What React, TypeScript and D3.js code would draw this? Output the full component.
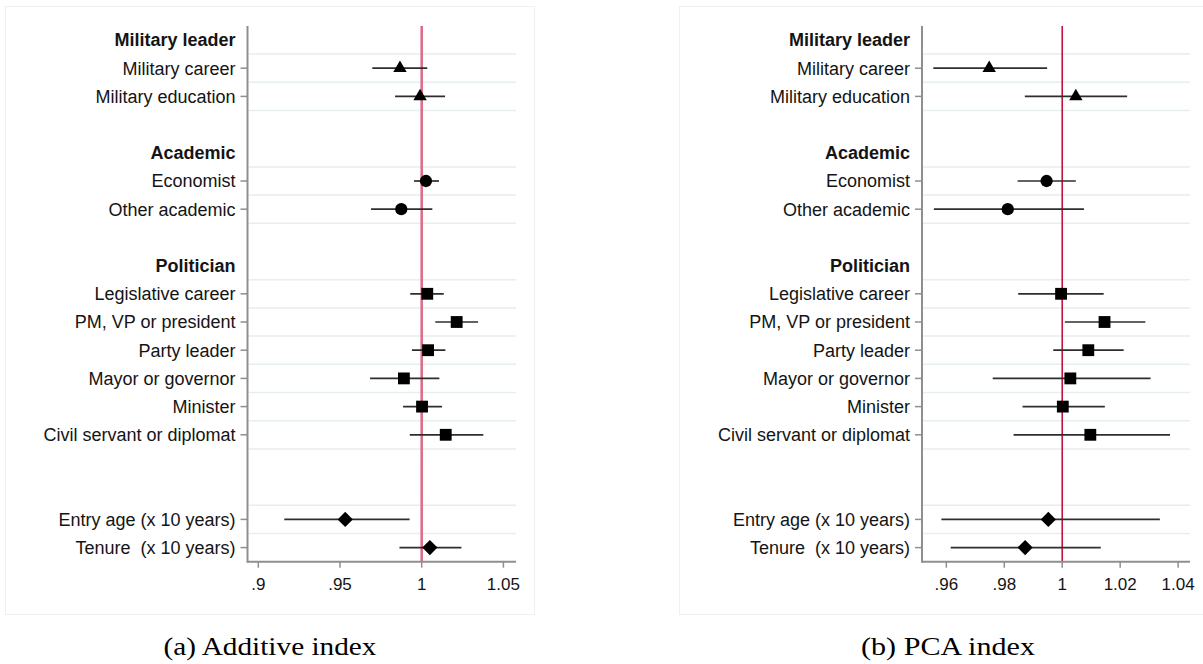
import React from "react";
import * as d3 from "d3";

// ---- data ----
const rowLabels = [
  "Military leader",
  "Military career",
  "Military education",
  "",
  "Academic",
  "Economist",
  "Other academic",
  "",
  "Politician",
  "Legislative career",
  "PM, VP or president",
  "Party leader",
  "Mayor or governor",
  "Minister",
  "Civil servant or diplomat",
  "",
  "",
  "Entry age (x 10 years)",
  "Tenure  (x 10 years)",
];
const headerLabels = ["Military leader", "Academic", "Politician"];

const categories = [
  "Military career",
  "Military education",
  "Economist",
  "Other academic",
  "Legislative career",
  "PM, VP or president",
  "Party leader",
  "Mayor or governor",
  "Minister",
  "Civil servant or diplomat",
  "Entry age (x 10 years)",
  "Tenure  (x 10 years)",
];
const markerShapes = [
  "triangle", "triangle",
  "circle", "circle",
  "square", "square", "square", "square", "square", "square",
  "diamond", "diamond",
];

// Additive index
const addEstimate = [0.9867, 0.999, 1.0026, 0.9875, 1.0034, 1.0214, 1.0039, 0.9891, 1.0002, 1.0147, 0.9532, 1.005];
const addLower = [0.9698, 0.9837, 0.9953, 0.969, 0.993, 1.0083, 0.994, 0.9684, 0.9886, 0.9927, 0.9159, 0.9864];
const addUpper = [1.0034, 1.0143, 1.0106, 1.0065, 1.0135, 1.0345, 1.0145, 1.0108, 1.0124, 1.0377, 0.9926, 1.0243];
const addTicks = [0.9, 0.95, 1, 1.05];
const addTickLabels = [".9", ".95", "1", "1.05"];

// PCA index
const pcaEstimate = [0.9748, 1.0047, 0.9946, 0.9812, 0.9996, 1.0146, 1.009, 1.0028, 1.0002, 1.0097, 0.9952, 0.9872];
const pcaLower = [0.9555, 0.9871, 0.9846, 0.9557, 0.9848, 1.0009, 0.9969, 0.976, 0.9863, 0.9832, 0.9583, 0.9615];
const pcaUpper = [0.9948, 1.0224, 1.0047, 1.0075, 1.0143, 1.0287, 1.0212, 1.0305, 1.0147, 1.0372, 1.0337, 1.0133];
const pcaTicks = [0.96, 0.98, 1, 1.02, 1.04];
const pcaTickLabels = [".96", ".98", "1", "1.02", "1.04"];

const captions = ["(a) Additive index", "(b) PCA index"];

// ---- layout ----
const W = 1203;
const H = 664;
const SANS = "'Liberation Sans', Arial, sans-serif";
const SERIF = "'Liberation Serif', 'Times New Roman', serif";

const yScale = d3.scaleLinear().domain([-0.5, rowLabels.length - 0.5]).range([25.9, 561.7]);

type PanelProps = {
  domain: [number, number];
  range: [number, number];
  est: number[];
  lo: number[];
  hi: number[];
  ticks: number[];
  tickLabels: string[];
  refColor: string;
  refWidth: number;
  frame: { x: number; y: number; w: number; h: number };
  caption: string;
  captionX: number;
  captionWidth: number;
};

function markerPath(shape: string): string {
  if (shape === "triangle") return d3.symbol(d3.symbolTriangle, 78)() as string;
  if (shape === "circle") return d3.symbol(d3.symbolCircle, 118)() as string;
  if (shape === "square") return d3.symbol(d3.symbolSquare, 140)() as string;
  const r = 7.6;
  return `M0,${-r}L${r},0L0,${r}L${-r},0Z`;
}

function Panel(p: PanelProps) {
  const x = d3.scaleLinear().domain(p.domain).range(p.range);
  const [x0, x1] = p.range;
  const yTop = yScale.range()[0];
  const yBot = yScale.range()[1];
  const coefRows = categories.map((c) => rowLabels.indexOf(c));
  const gridRows = Array.from(
    new Set(coefRows.flatMap((r) => [r - 0.5, r + 0.5]))
  ).filter((r) => r < rowLabels.length - 0.5);

  return (
    <g>
      <rect
        x={p.frame.x}
        y={p.frame.y}
        width={p.frame.w}
        height={p.frame.h}
        fill="none"
        stroke="#edf1f1"
        strokeWidth={1}
      />
      {/* grid */}
      {gridRows.map((r, i) => (
        <line key={"g" + i} x1={x0 + 1} x2={x1} y1={yScale(r)} y2={yScale(r)} stroke="#e6eef1" strokeWidth={1.5} />
      ))}
      {/* reference line */}
      <line x1={x(1)} x2={x(1)} y1={yTop} y2={yBot} stroke={p.refColor} strokeWidth={p.refWidth} />
      {/* axes */}
      <line x1={x0} x2={x0} y1={yTop} y2={yBot + 1} stroke="#8f8f8f" strokeWidth={2} />
      <line x1={x0} x2={x1} y1={yBot} y2={yBot} stroke="#8f8f8f" strokeWidth={2} />
      {p.ticks.map((t, i) => (
        <g key={"t" + i}>
          <line x1={x(t)} x2={x(t)} y1={yBot} y2={yBot + 6} stroke="#8f8f8f" strokeWidth={1.5} />
          <text x={x(t)} y={589.5} textAnchor="middle" fontFamily={SANS} fontSize={17} fill="#141414">
            {p.tickLabels[i]}
          </text>
        </g>
      ))}
      {/* row labels */}
      {rowLabels.map((lab, i) => {
        if (!lab) return null;
        const isHeader = headerLabels.includes(lab);
        return (
          <g key={"r" + i}>
            {!isHeader && (
              <line x1={x0 - 7} x2={x0} y1={yScale(i)} y2={yScale(i)} stroke="#8f8f8f" strokeWidth={1.5} />
            )}
            <text
              x={x0 - 12}
              y={yScale(i) + 6.3}
              textAnchor="end"
              fontFamily={SANS}
              fontSize={18}
              fontWeight={isHeader ? "bold" : "normal"}
              fill="#141414"
              style={{ whiteSpace: "pre" }}
            >
              {lab}
            </text>
          </g>
        );
      })}
      {/* CIs and markers */}
      {categories.map((c, i) => {
        const yy = yScale(rowLabels.indexOf(c));
        return (
          <g key={"c" + i}>
            <line x1={x(p.lo[i])} x2={x(p.hi[i])} y1={yy} y2={yy} stroke="#2e2e2e" strokeWidth={1.7} />
            <path d={markerPath(markerShapes[i])} transform={`translate(${x(p.est[i])},${yy})`} fill="#000" />
          </g>
        );
      })}
      <text
        x={p.captionX}
        y={655}
        textAnchor="middle"
        fontFamily={SERIF}
        fontSize={26}
        fill="#000"
        textLength={p.captionWidth}
        lengthAdjust="spacingAndGlyphs"
      >
        {p.caption}
      </text>
    </g>
  );
}

export default function App() {
  return (
    <svg
      width={W}
      height={H}
      viewBox={`0 0 ${W} ${H}`}
      style={{ position: "absolute", left: 0, top: 0, background: "#fff" }}
    >
      <rect x={0} y={0} width={W} height={H} fill="#fff" />
      <Panel
        domain={[0.8934, 1.0577]}
        range={[247.5, 516]}
        est={addEstimate}
        lo={addLower}
        hi={addUpper}
        ticks={addTicks}
        tickLabels={addTickLabels}
        refColor="#dd6d88"
        refWidth={2.6}
        frame={{ x: 5.5, y: 6.5, w: 529, h: 608 }}
        caption={captions[0]}
        captionX={270}
        captionWidth={213}
      />
      <Panel
        domain={[0.9516, 1.0441]}
        range={[922, 1190]}
        est={pcaEstimate}
        lo={pcaLower}
        hi={pcaUpper}
        ticks={pcaTicks}
        tickLabels={pcaTickLabels}
        refColor="#c4123c"
        refWidth={1.6}
        frame={{ x: 679.5, y: 6.5, w: 560, h: 608 }}
        caption={captions[1]}
        captionX={948}
        captionWidth={174}
      />
    </svg>
  );
}
